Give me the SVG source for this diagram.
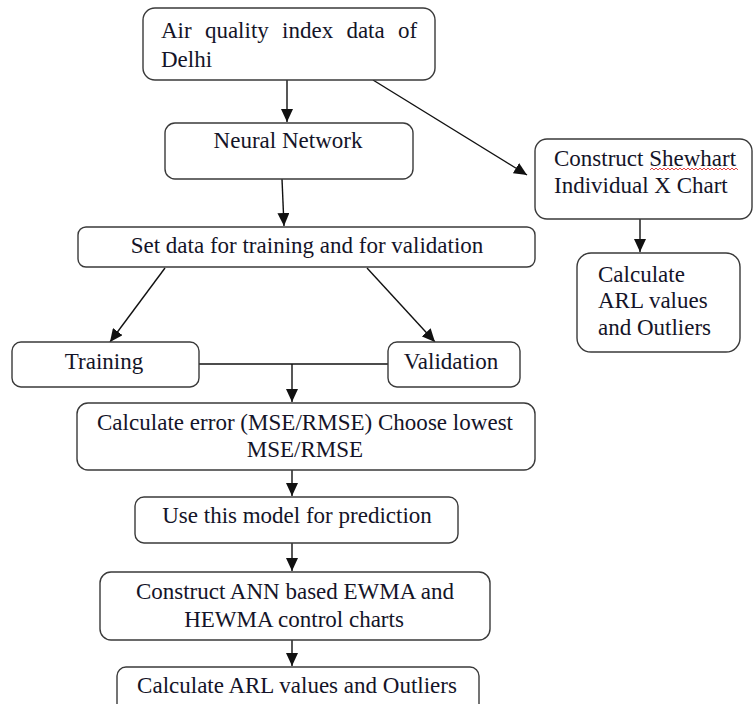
<svg xmlns="http://www.w3.org/2000/svg" width="754" height="704" viewBox="0 0 754 704">
  <style>
    .box { fill: #ffffff; stroke: #3a3a3a; stroke-width: 1.4; }
    .lbl { font-family: "Liberation Serif", "Times New Roman", serif; font-size: 23px; fill: #141428; }
    .mid { text-anchor: middle; }
    .edge { stroke: #111111; stroke-width: 1.4; fill: none; }
    .arr { marker-end: url(#head); }
  </style>
  <defs>
    <marker id="head" markerUnits="userSpaceOnUse" markerWidth="14" markerHeight="12" refX="13" refY="6" orient="auto">
      <path d="M0,0 L13,6 L0,12 Z" fill="#111111"/>
    </marker>
  </defs>
  <rect width="754" height="704" fill="#ffffff"/>

  <g id="connectors">
    <line class="edge arr" x1="287" y1="80" x2="287" y2="122"/>
    <line class="edge arr" x1="373" y1="80" x2="527" y2="175"/>
    <line class="edge arr" x1="282" y1="179" x2="284" y2="226"/>
    <line class="edge arr" x1="165" y1="268" x2="110" y2="342"/>
    <line class="edge arr" x1="367" y1="268" x2="435" y2="342"/>
    <line class="edge" x1="199" y1="364" x2="388" y2="364"/>
    <line class="edge arr" x1="292" y1="364" x2="292" y2="402"/>
    <line class="edge arr" x1="292" y1="470" x2="292" y2="496"/>
    <line class="edge arr" x1="292" y1="543" x2="292" y2="571"/>
    <line class="edge arr" x1="292" y1="640" x2="292" y2="666"/>
    <line class="edge arr" x1="640" y1="219" x2="640" y2="252"/>
  </g>

  <g id="aqi-data">
    <rect class="box" x="143" y="8" width="292" height="72" rx="12"/>
    <text class="lbl" x="161" y="38" word-spacing="7.5">Air quality index data of</text>
    <text class="lbl" x="161" y="67">Delhi</text>
  </g>

  <g id="neural-network">
    <rect class="box" x="165" y="123" width="248" height="56" rx="10"/>
    <text class="lbl mid" x="288" y="148">Neural Network</text>
  </g>

  <g id="set-data">
    <rect class="box" x="78" y="227" width="457" height="40" rx="8"/>
    <text class="lbl mid" x="307" y="253">Set data for training and for validation</text>
  </g>

  <g id="training">
    <rect class="box" x="12" y="342" width="187" height="45" rx="9"/>
    <text class="lbl mid" x="104" y="369">Training</text>
  </g>

  <g id="validation">
    <rect class="box" x="388" y="342" width="132" height="45" rx="9"/>
    <text class="lbl mid" x="451" y="369">Validation</text>
  </g>

  <g id="calc-error">
    <rect class="box" x="77" y="403" width="458" height="67" rx="11"/>
    <text class="lbl" x="97" y="430" textLength="416" lengthAdjust="spacing">Calculate error  (MSE/RMSE) Choose lowest</text>
    <text class="lbl mid" x="305" y="457">MSE/RMSE</text>
  </g>

  <g id="use-model">
    <rect class="box" x="135" y="497" width="323" height="46" rx="9"/>
    <text class="lbl mid" x="297" y="523">Use this model for prediction</text>
  </g>

  <g id="construct-ann">
    <rect class="box" x="100" y="572" width="390" height="68" rx="11"/>
    <text class="lbl mid" x="295" y="599">Construct ANN based EWMA and</text>
    <text class="lbl mid" x="294" y="627">HEWMA control charts</text>
  </g>

  <g id="calc-arl-main">
    <rect class="box" x="117" y="667" width="362" height="50" rx="9"/>
    <text class="lbl mid" x="297" y="693">Calculate ARL values and Outliers</text>
  </g>

  <g id="shewhart">
    <rect class="box" x="535" y="139" width="217" height="80" rx="12"/>
    <text class="lbl" x="554" y="166">Construct Shewhart</text>
    <path d="M650,170 l2,-2 l2,2 l2,-2 l2,2 l2,-2 l2,2 l2,-2 l2,2 l2,-2 l2,2 l2,-2 l2,2 l2,-2 l2,2 l2,-2 l2,2 l2,-2 l2,2 l2,-2 l2,2 l2,-2 l2,2 l2,-2 l2,2 l2,-2 l2,2 l2,-2 l2,2 l2,-2 l2,2 l2,-2 l2,2 l2,-2 l2,2 l2,-2 l2,2 l2,-2 l2,2 l2,-2 l2,2 l2,-2 l2,2 l2,-2 l2,2" fill="none" stroke="#e03030" stroke-width="0.9"/>
    <text class="lbl" x="554" y="193">Individual X Chart</text>
  </g>

  <g id="calc-arl-side">
    <rect class="box" x="577" y="253" width="163" height="99" rx="14"/>
    <text class="lbl" x="598" y="282">Calculate</text>
    <text class="lbl" x="598" y="308">ARL values</text>
    <text class="lbl" x="598" y="335">and Outliers</text>
  </g>
</svg>
